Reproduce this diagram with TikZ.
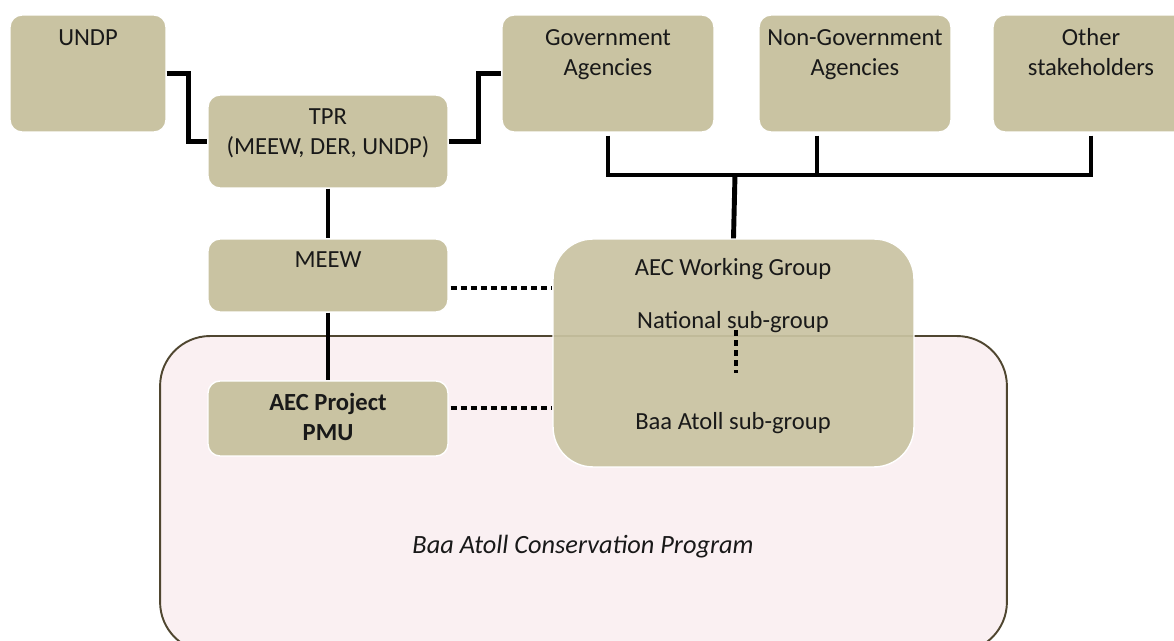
\documentclass[tikz,border=0pt]{standalone}
\usepackage{fontspec}
\setmainfont{Carlito}
\begin{document}
\begin{tikzpicture}[x=0.02cm,y=-0.02cm,
  box/.style={draw=white,line width=0.8pt,fill=boxc,rounded corners=0.24cm,inner sep=0pt},
  txt/.style={font=\fontsize{14}{17}\selectfont,text=black!90,align=center,inner sep=0pt},
  conn/.style={line width=2.8pt,black,line join=miter},
  dots/.style={line width=2.8pt,black,dash pattern=on 3.4pt off 2.3pt}]
\definecolor{boxc}{HTML}{C9C3A2}
\definecolor{pinkc}{HTML}{FAF0F2}
\definecolor{pinkline}{HTML}{4F4630}
\useasboundingbox (0,0) rectangle (1174,641);
% container
\node[draw=pinkline,line width=1.1pt,fill=pinkc,rounded corners=1cm,minimum width=16.94cm,minimum height=6.32cm,inner sep=0pt] (prog) at (583.5,494) {};
\node[txt,font=\fontsize{15}{18}\selectfont\itshape] (progt) at (583,547) {Baa Atoll Conservation Program};
% boxes
\node[box,minimum width=3.12cm,minimum height=2.34cm] (undp) at (88,73.5) {};
\node[box,minimum width=4.8cm,minimum height=1.86cm] (tpr) at (328,141.5) {};
\node[box,minimum width=4.24cm,minimum height=2.34cm] (gov) at (608,73.5) {};
\node[box,minimum width=3.84cm,minimum height=2.34cm] (ngov) at (855,73.5) {};
\node[box,minimum width=3.92cm,minimum height=2.34cm] (other) at (1091,73.5) {};
\node[box,minimum width=4.8cm,minimum height=1.46cm] (meew) at (328,275.5) {};
\node[box,minimum width=4.8cm,minimum height=1.5cm] (pmu) at (328,418.5) {};
\node[box,rounded corners=0.8cm,fill opacity=0.93,minimum width=7.22cm,minimum height=4.56cm] (aec) at (733.5,353) {};
% texts
\node[txt] (undpt) at (88,38) {UNDP};
\node[txt] (tprt) at (328,133) {TPR\\(MEEW, DER, UNDP)};
\node[txt] (govt) at (608,55) {Government\\Agencies};
\node[txt] (ngovt) at (855,55) {Non-Government\\Agencies};
\node[txt] (othert) at (1091,52) {Other\\stakeholders};
\node[txt] (meewt) at (328,260) {MEEW};
\node[txt,font=\fontsize{14}{17}\selectfont\bfseries] (pmut) at (328,417) {AEC Project\\PMU};
\node[txt] (aect) at (733,269) {AEC Working Group};
\node[txt] (natt) at (733,322) {National sub-group};
\node[txt] (baat) at (733,423) {Baa Atoll sub-group};
% solid connectors
\draw[conn] (undp.east) -- ++(22,0) |- (tpr.west);
\draw[conn] (tpr.east) -- ++(30,0) |- (gov.west);
\draw[conn] (tpr.south) -- (meew.north);
\draw[conn] (meew.south) -- (pmu.north);
\coordinate (bus) at (735,175);
\draw[conn,shorten <=0.06cm] (gov.south) |- (bus);
\draw[conn,shorten <=0.06cm] (other.south) |- (bus);
\draw[conn,shorten <=0.06cm] ([xshift=-0.76cm]ngov.south) -- ([xshift=-0.76cm]ngov.south |- bus);
\draw[conn] (bus) -- (aec.north);
% dotted connectors
\path (meew.east) ++(2,12.5) coordinate (m1);
\draw[dots] (m1) -- (m1 -| aec.west);
\path (pmu.east) ++(2,-10.5) coordinate (p1);
\draw[dots] (p1) -- (p1 -| aec.west);
\coordinate (n1) at (736,330);
\coordinate (n2) at (736,373);
\draw[dots] (n1) -- (n2);
\end{tikzpicture}
\end{document}
